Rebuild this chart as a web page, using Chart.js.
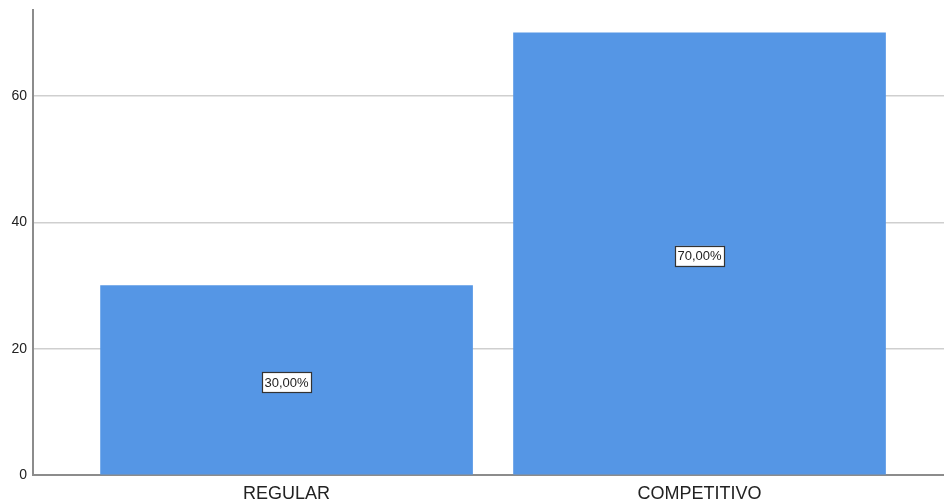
<!DOCTYPE html>
<html>
<head>
<meta charset="utf-8">
<script src="https://cdn.jsdelivr.net/npm/chart.js@4/dist/chart.umd.min.js"></script>
<style>
  html, body { margin: 0; padding: 0; background: #fff; }
  #wrap { width: 944px; height: 504px; }
</style>
</head>
<body>
<div id="wrap"><canvas id="barChart" width="944" height="504"></canvas></div>
<script>
// Category labels and the percentage for each one
const categories = ['REGULAR', 'COMPETITIVO'];
const percentages = [30, 70];
const yTickValues = [0, 20, 40, 60];

const barColor = '#5596e5';
const axisColor = '#8c8c8c';
const gridColor = '#cfcfcf';
const textColor = '#222';

// Boxed value label drawn at the middle of each bar
const valueBoxes = {
    id: 'valueBoxes',
    afterDatasetsDraw(chart) {
        const ctx = chart.ctx;
        const meta = chart.getDatasetMeta(0);
        const yScale = chart.scales.y;
        ctx.save();
        ctx.font = '13px "Liberation Sans", Arial, sans-serif';
        ctx.textAlign = 'center';
        ctx.textBaseline = 'middle';
        meta.data.forEach((bar, i) => {
            const value = percentages[i];
            const text = value.toFixed(2).replace('.', ',') + '%';
            const cx = bar.x;
            const cy = yScale.getPixelForValue(value / 2) + 2;
            const w = ctx.measureText(text).width + 5;
            const h = 20;
            ctx.fillStyle = '#fff';
            ctx.fillRect(cx - w / 2, cy - h / 2, w, h);
            ctx.strokeStyle = '#333';
            ctx.lineWidth = 1.2;
            ctx.strokeRect(Math.round(cx - w / 2) + 0.5, Math.round(cy - h / 2) + 0.5, Math.round(w), h);
            ctx.fillStyle = textColor;
            ctx.fillText(text, cx, cy + 1);
        });
        ctx.restore();
    }
};

const ctx = document.getElementById('barChart');

new Chart(ctx, {
    type: 'bar',
    data: {
        datasets: [{
            data: percentages.map((v, i) => ({ x: i, y: v })),
            backgroundColor: barColor,
            borderWidth: 0,
            barThickness: 372
        }]
    },
    options: {
        responsive: false,
        animation: false,
        layout: { padding: { top: 10, right: 0, left: 0, bottom: 0 } },
        plugins: {
            legend: { display: false },
            tooltip: { enabled: false }
        },
        scales: {
            x: {
                type: 'linear',
                offset: false,
                min: -0.614,
                max: 1.592,
                afterBuildTicks(scale) {
                    scale.ticks = categories.map((c, i) => ({ value: i }));
                },
                afterFit(scale) {
                    scale.height = 29;
                    scale.paddingLeft = 0;
                    scale.paddingRight = 0;
                },
                ticks: {
                    callback: (value) => categories[value] ?? '',
                    color: textColor,
                    padding: 8,
                    maxRotation: 0,
                    autoSkip: false,
                    font: { family: '"Liberation Sans", Arial, sans-serif', size: 18 }
                },
                grid: { display: false, drawTicks: false, offset: false },
                border: { color: axisColor, width: 2 }
            },
            y: {
                min: 0,
                max: 73.6,
                afterBuildTicks(scale) {
                    scale.ticks = yTickValues.map(v => ({ value: v }));
                },
                afterFit(scale) {
                    scale.width = 33;
                    scale.paddingTop = 0;
                    scale.paddingBottom = 0;
                },
                ticks: {
                    color: textColor,
                    padding: 6,
                    font: { family: '"Liberation Sans", Arial, sans-serif', size: 14 }
                },
                grid: {
                    drawTicks: false,
                    lineWidth: 1.5,
                    color: (c) => c.tick && c.tick.value === 0 ? 'rgba(0,0,0,0)' : gridColor
                },
                border: { color: axisColor, width: 2 }
            }
        }
    },
    plugins: [valueBoxes]
});
</script>
</body>
</html>
